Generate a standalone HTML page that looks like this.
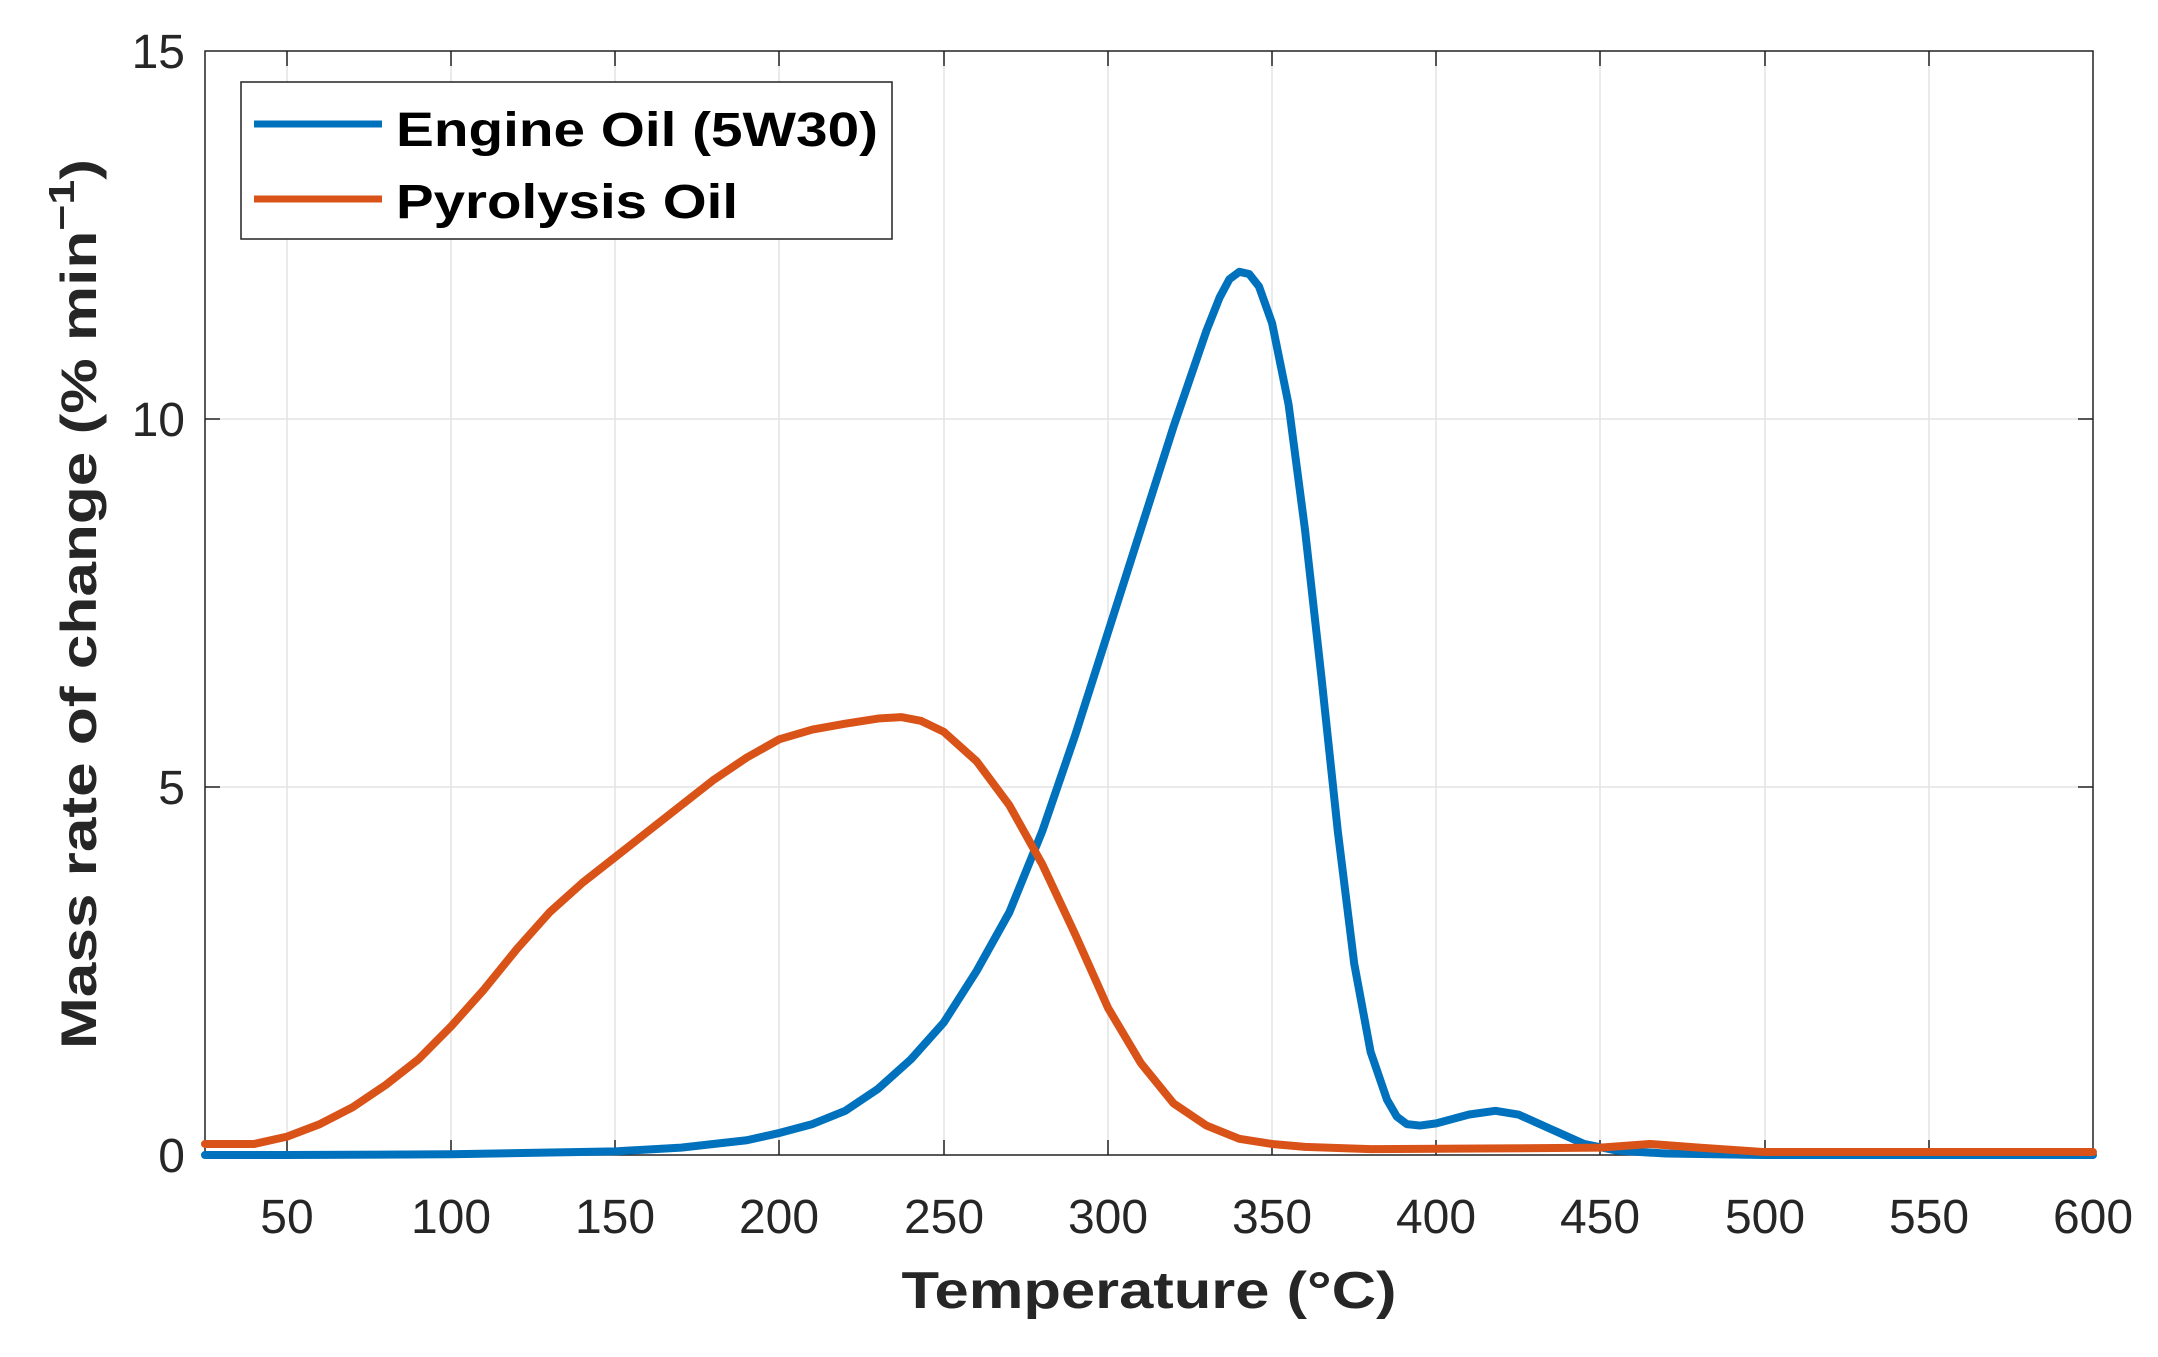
<!DOCTYPE html>
<html><head><meta charset="utf-8"><style>html,body{margin:0;padding:0;background:#fff}</style></head>
<body>
<svg width="2158" height="1352" viewBox="0 0 2158 1352" xmlns="http://www.w3.org/2000/svg" font-family="Liberation Sans, Arial, sans-serif">
<rect width="2158" height="1352" fill="#fff"/>
<g stroke="#e3e3e3" stroke-width="1.5">
<line x1="287" y1="51" x2="287" y2="1155"/><line x1="451" y1="51" x2="451" y2="1155"/><line x1="615" y1="51" x2="615" y2="1155"/><line x1="779" y1="51" x2="779" y2="1155"/><line x1="944" y1="51" x2="944" y2="1155"/><line x1="1108" y1="51" x2="1108" y2="1155"/><line x1="1272" y1="51" x2="1272" y2="1155"/><line x1="1436" y1="51" x2="1436" y2="1155"/><line x1="1600" y1="51" x2="1600" y2="1155"/><line x1="1765" y1="51" x2="1765" y2="1155"/><line x1="1929" y1="51" x2="1929" y2="1155"/>
<line x1="205" y1="419" x2="2093" y2="419"/><line x1="205" y1="787" x2="2093" y2="787"/>
</g>
<g stroke="#222" stroke-width="1.5">
<path d="M287 1155v-15M451 1155v-15M615 1155v-15M779 1155v-15M944 1155v-15M1108 1155v-15M1272 1155v-15M1436 1155v-15M1600 1155v-15M1765 1155v-15M1929 1155v-15"/>
<path d="M287 51v15M451 51v15M615 51v15M779 51v15M944 51v15M1108 51v15M1272 51v15M1436 51v15M1600 51v15M1765 51v15M1929 51v15"/>
<path d="M205 419h15M205 787h15M2093 419h-15M2093 787h-15"/>
<rect x="205" y="51" width="1888" height="1104" fill="none"/>
</g>
<g transform="translate(122.9,1155) scale(3.2835,-73.6)" fill="none" stroke-linejoin="round" stroke-linecap="round">
<polyline vector-effect="non-scaling-stroke" stroke="#0072BD" stroke-width="8" points="25,0 50,0 100,0.01 150,0.05 170,0.1 190,0.2 200,0.3 210,0.42 220,0.6 230,0.9 240,1.3 250,1.8 260,2.5 270,3.3 280,4.4 290,5.7 300,7.1 310,8.5 320,9.9 330,11.2 334,11.65 337,11.9 340,12.0 343,11.97 346,11.8 350,11.3 355,10.2 360,8.5 365,6.5 370,4.4 375,2.6 380,1.4 385,0.75 388,0.52 391,0.42 395,0.4 400,0.43 410,0.55 418,0.6 425,0.55 435,0.35 445,0.15 455,0.06 470,0.02 500,0 600,0"/>
<polyline vector-effect="non-scaling-stroke" stroke="#D95319" stroke-width="8" points="25,0.15 40,0.15 50,0.25 60,0.42 70,0.65 80,0.95 90,1.3 100,1.75 110,2.25 120,2.8 130,3.3 140,3.7 150,4.05 160,4.4 170,4.75 180,5.1 190,5.4 200,5.65 210,5.78 220,5.86 230,5.93 237,5.95 243,5.9 250,5.75 260,5.35 270,4.75 280,3.95 290,3.0 300,2.0 310,1.25 320,0.7 330,0.4 340,0.22 350,0.15 360,0.11 380,0.08 420,0.09 450,0.1 465,0.15 480,0.1 500,0.04 600,0.04"/>
</g>
<g font-size="48" fill="#262626" text-anchor="middle">
<text x="287" y="1233">50</text><text x="451" y="1233">100</text><text x="615" y="1233">150</text><text x="779" y="1233">200</text><text x="944" y="1233">250</text><text x="1108" y="1233">300</text><text x="1272" y="1233">350</text><text x="1436" y="1233">400</text><text x="1600" y="1233">450</text><text x="1765" y="1233">500</text><text x="1929" y="1233">550</text><text x="2093" y="1233">600</text>
</g>
<g font-size="48" fill="#262626" text-anchor="end">
<text x="185" y="1172">0</text><text x="185" y="804">5</text><text x="185" y="436">10</text><text x="185" y="68">15</text>
</g>
<text x="1149" y="1308" font-size="52" font-weight="bold" fill="#262626" text-anchor="middle" textLength="495" lengthAdjust="spacingAndGlyphs">Temperature (°C)</text>
<text transform="translate(96,604) rotate(-90)" font-size="50" font-weight="bold" fill="#262626" text-anchor="middle" textLength="890" lengthAdjust="spacingAndGlyphs">Mass rate of change (% min<tspan dy="-22" font-size="36">−1</tspan><tspan dy="22">)</tspan></text>
<rect x="241" y="82" width="651" height="157" fill="#fff" stroke="#222" stroke-width="1.5"/>
<line x1="254" y1="124" x2="382" y2="124" stroke="#0072BD" stroke-width="7"/>
<line x1="254" y1="199" x2="382" y2="199" stroke="#D95319" stroke-width="7"/>
<text x="396" y="146" font-size="48" font-weight="bold" fill="#000" textLength="482" lengthAdjust="spacingAndGlyphs">Engine Oil (5W30)</text>
<text x="396" y="218" font-size="48" font-weight="bold" fill="#000" textLength="342" lengthAdjust="spacingAndGlyphs">Pyrolysis Oil</text>
</svg>
</body></html>
